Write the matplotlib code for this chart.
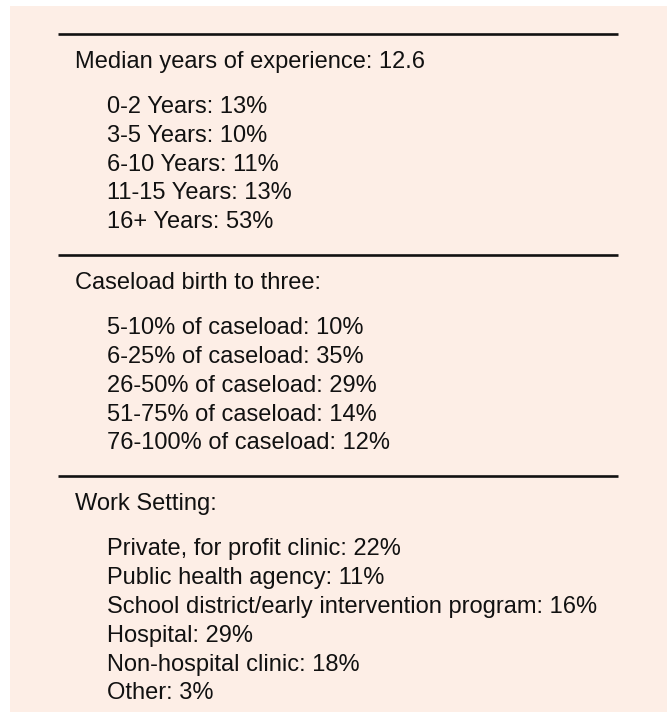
import matplotlib.pyplot as plt
from matplotlib.patches import Rectangle

# section headers
headers = ['Median years of experience: 12.6',
           'Caseload birth to three:',
           'Work Setting:']

# items in each section (label, percent)
exp_labels = ['0-2 Years', '3-5 Years', '6-10 Years', '11-15 Years', '16+ Years']
exp_values = [13, 10, 11, 13, 53]

caseload_labels = ['5-10% of caseload', '6-25% of caseload', '26-50% of caseload',
                   '51-75% of caseload', '76-100% of caseload']
caseload_values = [10, 35, 29, 14, 12]

setting_labels = ['Private, for profit clinic', 'Public health agency',
                  'School district/early intervention program', 'Hospital',
                  'Non-hospital clinic', 'Other']
setting_values = [22, 11, 16, 29, 18, 3]

sections = [(exp_labels, exp_values),
            (caseload_labels, caseload_values),
            (setting_labels, setting_values)]

plt.rcParams['font.family'] = ['Liberation Sans', 'DejaVu Sans']

W, H = 667, 712
fig = plt.figure(figsize=(W / 100, H / 100), dpi=100)
fig.patch.set_facecolor('white')
ax = fig.add_axes([0, 0, 1, 1])
ax.set_xlim(0, W)
ax.set_ylim(H, 0)
ax.axis('off')

# peach panel
ax.add_patch(Rectangle((10, 6), W - 10, H - 6, facecolor='#fdeee6', edgecolor='none'))

fs = 17
row_h = 28.8
y = 34
for header, (labels, values) in zip(headers, sections):
    ax.plot([58, 618], [y, y], color='#111111', lw=1.9, solid_capstyle='butt')
    ax.text(75, y + 28, header, fontsize=fs, va='center', ha='left', color='#111111')
    for i, (lab, val) in enumerate(zip(labels, values)):
        ax.text(107, y + 73 + i * row_h, f'{lab}: {val}%', fontsize=fs,
                va='center', ha='left', color='#111111')
    y = y + 73 + (len(labels) - 1) * row_h + 33

fig.savefig('out.png', dpi=100)
